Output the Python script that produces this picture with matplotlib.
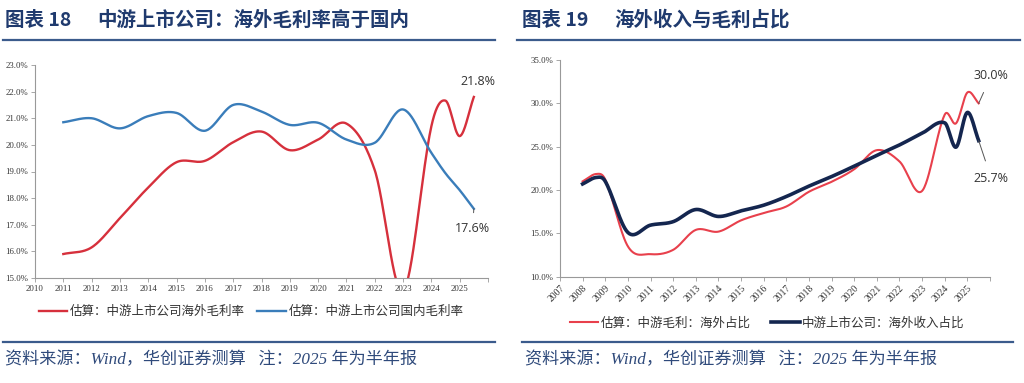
import numpy as np
import matplotlib.pyplot as plt
from matplotlib.lines import Line2D

plt.rcParams['font.family'] = ['Noto Sans CJK SC', 'DejaVu Sans']

# ---- 图表18 data ----
years18 = [2011, 2012, 2013, 2014, 2015, 2016, 2017, 2018, 2019, 2020, 2021, 2022, 2023, 2024, 2024.5, 2025, 2025.5]
overseas18 = [15.9, 16.15, 17.25, 18.4, 19.35, 19.4, 20.1, 20.5, 19.8, 20.2, 20.8, 19.05, 14.5, 20.7, 21.66, 20.33, 21.8]
domestic18 = [20.85, 21.0, 20.62, 21.08, 21.2, 20.53, 21.5, 21.25, 20.75, 20.83, 20.2, 20.08, 21.33, 19.7, 18.93, 18.3, 17.6]
xlabels18 = [str(y) for y in range(2010, 2026)]

# ---- 图表19 data ----
years19 = [2008, 2008.6, 2009, 2010, 2011, 2012, 2013, 2014, 2015, 2016, 2017, 2018, 2019, 2020, 2021, 2022, 2023, 2024, 2024.5, 2025, 2025.5]
margin19 = [21.0, 21.85, 21.2, 13.5, 12.6, 13.1, 15.4, 15.2, 16.5, 17.35, 18.1, 19.8, 20.95, 22.4, 24.6, 23.3, 19.9, 28.7, 27.7, 31.25, 30.0]
revenue19 = [20.7, 21.45, 21.0, 15.1, 15.95, 16.35, 17.75, 16.95, 17.6, 18.25, 19.25, 20.45, 21.55, 22.75, 24.0, 25.2, 26.55, 27.75, 24.95, 28.95, 25.7]
xlabels19 = [str(y) for y in range(2007, 2026)]

RED = '#D6303C'
BLUE = '#3A7DBA'
RED2 = '#E8404C'
NAVY = '#14264F'
TITLE_C = '#1F3A6E'
RULE_C = '#3B5B8C'
SRC_C = '#2F4A7B'


def smooth(x, y, n=30):
    # cardinal spline through the points (like Excel's smoothed line)
    x = np.asarray(x, float)
    y = np.asarray(y, float)
    m = np.zeros_like(y)
    m[1:-1] = (y[2:] - y[:-2]) / (x[2:] - x[:-2])
    m[0] = (y[1] - y[0]) / (x[1] - x[0])
    m[-1] = (y[-1] - y[-2]) / (x[-1] - x[-2])
    xs, ys = [], []
    t = np.linspace(0, 1, n, endpoint=False)
    for i in range(len(x) - 1):
        h = x[i + 1] - x[i]
        h00 = 2 * t**3 - 3 * t**2 + 1
        h10 = t**3 - 2 * t**2 + t
        h01 = -2 * t**3 + 3 * t**2
        h11 = t**3 - t**2
        xs.append(x[i] + t * h)
        ys.append(h00 * y[i] + h10 * h * m[i] + h01 * y[i + 1] + h11 * h * m[i + 1])
    xs.append([x[-1]])
    ys.append([y[-1]])
    return np.concatenate(xs), np.concatenate(ys)


def style_axes(ax, xsize=6.3):
    for s in ['top', 'right']:
        ax.spines[s].set_visible(False)
    for s in ['left', 'bottom']:
        ax.spines[s].set_color('#999999')
        ax.spines[s].set_linewidth(0.8)
    ax.tick_params(axis='both', direction='out', length=3, width=0.6, color='#999999',
                   labelsize=6.3, labelcolor='#333333', pad=2)
    ax.tick_params(axis='x', labelsize=xsize)
    for lab in ax.get_xticklabels() + ax.get_yticklabels():
        lab.set_fontfamily('Liberation Serif')


fig = plt.figure(figsize=(10.24, 3.83), dpi=100)
W, H = 1024, 383


def fx(px):
    return px / W


def fy(py):
    return 1 - py / H


# ---- left chart ----
ax1 = fig.add_axes([fx(35), fy(278), fx(453), 213 / H])
xs, ys = smooth(years18, overseas18)
ax1.plot(xs, ys, color=RED, lw=1.7)
xs, ys = smooth(years18, domestic18)
ax1.plot(xs, ys, color=BLUE, lw=1.7)
ax1.set_xlim(2010, 2026)
ax1.set_ylim(15, 23)
ax1.set_xticks(range(2010, 2027))
ax1.set_xticklabels(xlabels18 + [''])
ax1.set_yticks(np.arange(15, 23.01, 1))
ax1.set_yticklabels([f'{v:.1f}%' for v in np.arange(15, 23.01, 1)])
style_axes(ax1)
ax1.annotate(f'{overseas18[-1]:.1f}%', xy=(years18[-1], overseas18[-1]), xytext=(3, 11),
             textcoords='offset points', ha='center', va='center', fontsize=9,
             color='#333333', family='Open Sans')
ax1.annotate(f'{domestic18[-1]:.1f}%', xy=(years18[-1], domestic18[-1]), xytext=(-1, -14.5),
             textcoords='offset points', ha='center', va='center', fontsize=9,
             color='#333333', family='Open Sans',
             arrowprops=dict(arrowstyle='-', color='#555555', lw=0.7, shrinkA=5, shrinkB=0))

# ---- right chart ----
ax2 = fig.add_axes([fx(560), fy(276.7), fx(430), 216.7 / H])
xs, ys = smooth(years19, margin19)
ax2.plot(xs, ys, color=RED2, lw=1.5)
xs, ys = smooth(years19, revenue19)
ax2.plot(xs, ys, color=NAVY, lw=2.6)
ax2.set_xlim(2007, 2026)
ax2.set_ylim(10, 35)
ax2.set_xticks(range(2007, 2027))
ax2.set_xticklabels(xlabels19 + [''], rotation=45, ha='right', rotation_mode='anchor')
ax2.set_yticks(np.arange(10, 35.01, 5))
ax2.set_yticklabels([f'{v:.1f}%' for v in np.arange(10, 35.01, 5)])
style_axes(ax2, xsize=6.9)
ax2.annotate(f'{margin19[-1]:.1f}%', xy=(years19[-1], margin19[-1]), xytext=(9, 20),
             textcoords='offset points', ha='center', va='center', fontsize=9,
             color='#333333', family='Open Sans',
             arrowprops=dict(arrowstyle='-', color='#555555', lw=0.7, shrinkA=6, shrinkB=0))
ax2.annotate(f'{revenue19[-1]:.1f}%', xy=(years19[-1], revenue19[-1]), xytext=(9, -27),
             textcoords='offset points', ha='center', va='center', fontsize=9,
             color='#333333', family='Open Sans',
             arrowprops=dict(arrowstyle='-', color='#555555', lw=0.7, shrinkA=6, shrinkB=0))

# ---- legends ----
h1 = [Line2D([], [], color=RED, lw=1.7), Line2D([], [], color=BLUE, lw=1.7)]
fig.legend(h1, ['估算：中游上市公司海外毛利率', '估算：中游上市公司国内毛利率'],
           loc='center', bbox_to_anchor=(fx(251), fy(311.7)), ncol=2, frameon=False,
           fontsize=9, handlelength=2.3, handletextpad=0.2, columnspacing=1.0,
           labelcolor='#333333')
h2 = [Line2D([], [], color=RED2, lw=1.5), Line2D([], [], color=NAVY, lw=2.6)]
fig.legend(h2, ['估算：中游毛利：海外占比', '中游上市公司：海外收入占比'],
           loc='center', bbox_to_anchor=(fx(767), fy(323.3)), ncol=2, frameon=False,
           fontsize=9, handlelength=2.3, handletextpad=0.2, columnspacing=1.6,
           labelcolor='#333333')

# ---- titles and rules ----
for x0, num, txt in [(5, '图表 18', '中游上市公司：海外毛利率高于国内'),
                     (522, '图表 19', '海外收入与毛利占比')]:
    fig.text(fx(x0), fy(20), num, fontsize=14, fontweight='bold', color=TITLE_C,
             va='center', ha='left')
    fig.text(fx(x0 + 92), fy(20), txt, fontsize=14, fontweight='bold', color=TITLE_C,
             va='center', ha='left')
for x0, x1 in [(3, 495), (517, 1020)]:
    fig.add_artist(Line2D([fx(x0), fx(x1)], [fy(40), fy(40)], color=RULE_C, lw=1.6))
for x0, x1 in [(3, 495), (522, 1013)]:
    fig.add_artist(Line2D([fx(x0), fx(x1)], [fy(341.7), fy(341.7)], color=RULE_C, lw=1.6))
src = '资料来源：Wind，华创证券测算   注：2025 年为半年报'
for x0 in [5, 525]:
    fig.text(fx(x0), fy(360), src, fontsize=12.3, style='italic', color=SRC_C, va='center',
             family=['Liberation Serif', 'Noto Sans CJK SC'])

fig.savefig('out.png', dpi=100)
